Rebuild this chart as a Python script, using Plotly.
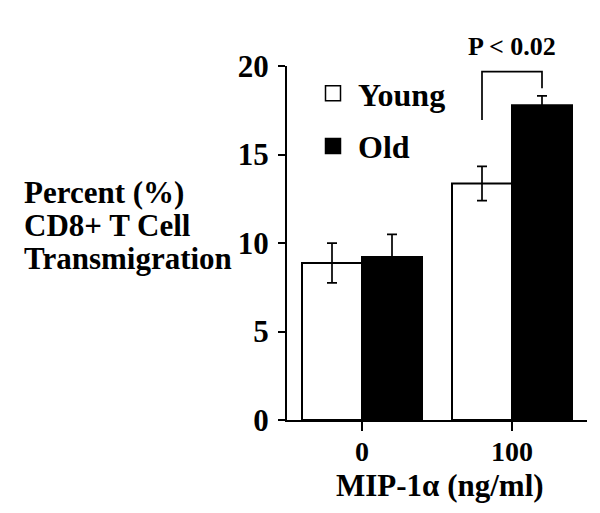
import plotly.graph_objects as go

# ---- data ----
doses = ["0", "100"]
young_vals = [8.87, 13.36]
old_vals = [9.21, 17.78]
young_err = [1.12, 0.97]
old_err = [1.28, 0.53]
bracket_y = [16.95, 19.68, 19.68, 18.74]
p_label = "P < 0.02"
ytitle_lines = ["Percent (%)", "CD8+ T Cell", "Transmigration"]
ytitle_levels = [12.86, 11.0, 9.13]
x_title = "MIP-1\u03b1 (ng/ml)"
y_ticks = [0, 5, 10, 15, 20]

x_pos = list(range(len(doses)))
FONT = "Liberation Serif"


def bfont(size):
    return dict(family=FONT, size=size, color="black", weight="bold")


fig = go.Figure()
fig.add_trace(go.Bar(
    x=x_pos, y=young_vals, name="Young", showlegend=False,
    marker=dict(color="white", line=dict(color="black", width=2)),
    error_y=dict(type="data", array=young_err, visible=True,
                 color="black", thickness=1.7, width=5),
))
fig.add_trace(go.Bar(
    x=x_pos, y=old_vals, name="Old", showlegend=False,
    marker=dict(color="black", line=dict(color="black", width=2)),
    error_y=dict(type="data", array=old_err, visible=True,
                 color="black", thickness=1.7, width=5),
))

# legend entries
for nm, col, grp in [("Young", "white", "young"), ("Old", "black", "old")]:
    fig.add_trace(go.Scatter(
        x=[None], y=[None], mode="markers", name=nm, legendgroup=grp,
        marker=dict(symbol="square", size=15, color=col,
                    line=dict(color="black", width=1.5)),
    ))

# significance bracket between the two bars of the last group
offset = 0.2
bx = x_pos[-1]
fig.add_trace(go.Scatter(
    x=[bx - offset, bx - offset, bx + offset, bx + offset],
    y=bracket_y, mode="lines", line=dict(color="black", width=1.7),
    showlegend=False, hoverinfo="skip",
))

fig.add_annotation(
    x=bx, y=max(bracket_y), xref="x", yref="y", text=p_label,
    showarrow=False, yanchor="bottom", yshift=9, font=bfont(26),
)

for line, lvl in zip(ytitle_lines, ytitle_levels):
    fig.add_annotation(
        x=-0.883, y=lvl, xref="paper", yref="y", text=line,
        showarrow=False, xanchor="left", yanchor="middle", align="left",
        font=bfont(31),
    )

# x-axis title
fig.add_annotation(
    x=0.51, y=-0.185, xref="paper", yref="paper", text=x_title,
    showarrow=False, xanchor="center", yanchor="middle", font=bfont(31),
    borderpad=0,
)

fig.update_layout(
    width=592, height=505,
    margin=dict(l=279, r=13, t=58, b=93),
    paper_bgcolor="white", plot_bgcolor="white",
    barmode="group", bargap=0.2, bargroupgap=0,
    font=dict(family=FONT, color="black", weight="bold"),
    legend=dict(x=0.07, y=1.0, xanchor="left", yanchor="top",
                font=bfont(32), tracegroupgap=8,
                bgcolor="rgba(0,0,0,0)", itemwidth=40),
    xaxis=dict(range=[-0.5, 1.5], tickvals=x_pos, ticktext=doses,
               showline=True, linecolor="black", linewidth=2,
               ticks="outside", ticklen=9, tickwidth=2, tickcolor="black",
               showgrid=False, zeroline=False, tickfont=bfont(28),
               ticklabelstandoff=-4),
    yaxis=dict(range=[0, 20], tickvals=y_ticks,
               showline=True, linecolor="black", linewidth=2,
               ticks="outside", ticklen=7, tickwidth=2, tickcolor="black",
               showgrid=False, zeroline=False, ticklabelstandoff=3,
               tickfont=bfont(31)),
)

fig.write_html("out.html")
